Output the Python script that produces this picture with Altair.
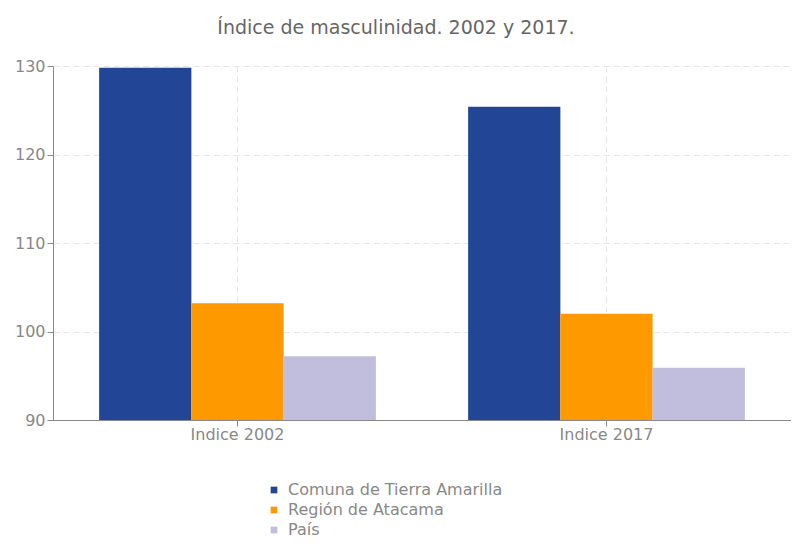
import altair as alt
import pandas as pd

indices = ["Indice 2002", "Indice 2017"]
regiones = ["Comuna de Tierra Amarilla", "Región de Atacama", "País"]
colores = ["#224596", "#FF9900", "#C1BDDC"]
valores_2002 = [129.8, 103.2, 97.2]
valores_2017 = [125.4, 102.0, 95.9]

rows = []
for r, v in zip(regiones, valores_2002):
    rows.append({"indice": indices[0], "region": r, "valor": v})
for r, v in zip(regiones, valores_2017):
    rows.append({"indice": indices[1], "region": r, "valor": v})
df = pd.DataFrame(rows)

font = "DejaVu Sans"
gray = "#888888"

chart = alt.Chart(df).mark_bar(clip=True).encode(
    x=alt.X("indice:N", sort=indices, title=None,
            scale=alt.Scale(paddingInner=0, paddingOuter=0),
            axis=alt.Axis(labelAngle=0, grid=True, gridDash=[6, 4], gridColor="#e6e6e6",
                          bandPosition=0.5, domainColor=gray, tickColor=gray, tickSize=6,
                          labelColor=gray, labelFontSize=16, labelFont=font, labelPadding=0)),
    xOffset=alt.XOffset("region:N", sort=regiones,
                        scale=alt.Scale(paddingInner=0, paddingOuter=0.5)),
    y=alt.Y("valor:Q", title=None,
            scale=alt.Scale(domain=[90, 130], zero=False, nice=False),
            axis=alt.Axis(values=[90, 100, 110, 120, 130], grid=True, gridDash=[6, 4],
                          gridColor="#e6e6e6", domainColor=gray, tickColor=gray, tickSize=6,
                          labelColor=gray, labelFontSize=16, labelFont=font, labelPadding=2)),
    color=alt.Color("region:N", sort=regiones,
                    scale=alt.Scale(domain=regiones, range=colores),
                    legend=alt.Legend(title=None, orient="none", legendX=213, legendY=62 + 354,
                                      symbolType="square", symbolSize=45, labelFontSize=16,
                                      labelFont=font, labelColor=gray, rowPadding=4,
                                      labelOffset=6, labelLimit=400)),
).properties(
    width=738,
    height=354,
    title=alt.TitleParams("Índice de masculinidad. 2002 y 2017.", fontSize=19, font=font,
                          color="#666666", fontWeight="normal", anchor="middle", dx=-26,
                          offset=20),
    padding={"left": 45, "top": 58, "right": 0, "bottom": 116},
    autosize=alt.AutoSizeParams(type="none"),
).configure_view(stroke=None)

chart.save("out.html", embed_options={"renderer": "svg", "actions": False})
